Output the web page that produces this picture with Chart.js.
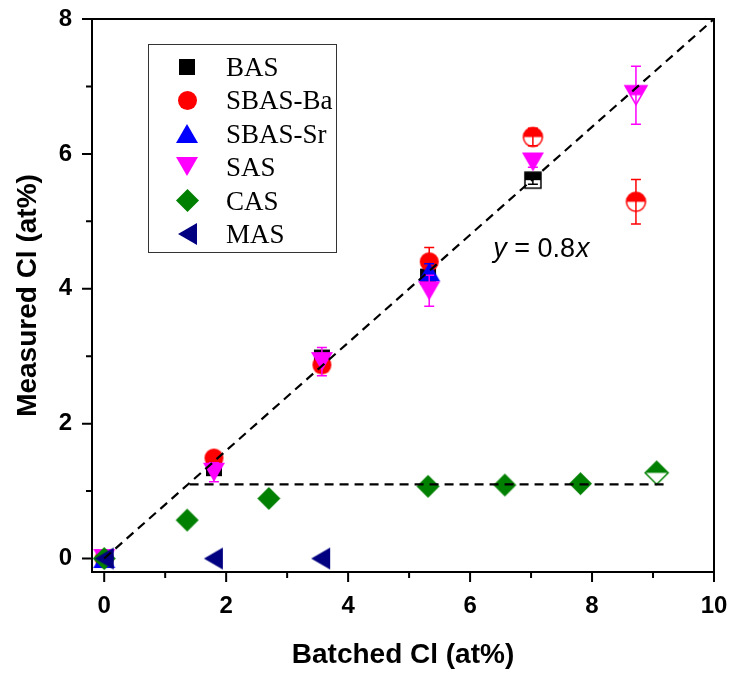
<!DOCTYPE html>
<html lang="en">
<head>
<meta charset="UTF-8">
<title>Measured vs batched Cl</title>
<style>
  html, body { margin: 0; padding: 0; background: #fff; }
  #clChart { display: block; }
</style>
</head>
<body>
<canvas id="clChart" width="734" height="679"></canvas>
<script src="https://cdn.jsdelivr.net/npm/chart.js"></script>
<script>
// values (at%)
const basX = [0, 1.8, 3.57, 5.31, 7.03];
const basY = [0, 1.34, 2.98, 4.18, 5.61];
const basErr = [0, 0.06, 0.06, 0.06, 0.06];
const basHalf = [0, 0, 0, 0, 1];

const sbasBaX = [0, 1.8, 3.57, 5.33, 7.03, 8.72];
const sbasBaY = [0, 1.49, 2.87, 4.40, 6.25, 5.29];
const sbasBaErr = [0, 0.05, 0.07, 0.21, 0.13, 0.33];
const sbasBaHalf = [0, 0, 0, 0, 1, 1];

const sbasSrX = [0, 5.33];
const sbasSrY = [0, 4.25];
const sbasSrErr = [0, 0.12];
const sbasSrHalf = [0, 0];

const sasX = [0, 1.8, 3.57, 5.33, 7.03, 8.72];
const sasY = [0, 1.28, 2.92, 3.97, 5.88, 6.87];
const sasErr = [0, 0.14, 0.21, 0.23, 0.08, 0.43];
const sasHalf = [0, 0, 0, 0, 0, 1];

const casX = [0, 1.36, 2.70, 5.31, 6.57, 7.81, 9.06];
const casY = [0, 0.57, 0.89, 1.07, 1.09, 1.11, 1.27];
const casHalf = [0, 0, 0, 0, 0, 0, 1];

const masX = [0, 1.79, 3.55];
const masY = [0, 0, 0];
const masHalf = [0, 0, 0];

// dashed guide lines
const fitAllX = [0, 10];
const fitAllY = [0, 8];
const fitCasX = [1.4, 9.27];
const fitCasY = [1.1, 1.1];

const xTicks = [0, 2, 4, 6, 8, 10];
const yTicks = [0, 2, 4, 6, 8];
const xMinor = [1, 3, 5, 7, 9];
const yMinor = [1, 3, 5, 7];

const fitLabel = ['y', ' = 0.8', 'x'];

// marker images, half = top filled / bottom white
function makeMarker(shape, color, half) {
  const sizes = { square: [16, 16], circle: [19, 19], up: [22, 19], down: [22, 19], diamond: [23, 23], left: [19, 22] };
  const w = sizes[shape][0], h = sizes[shape][1];
  const pad = 2;
  const c = document.createElement('canvas');
  c.width = w + pad * 2;
  c.height = h + pad * 2;
  const g = c.getContext('2d');
  g.translate(pad, pad);
  const path = () => {
    g.beginPath();
    if (shape === 'square') g.rect(0, 0, w, h);
    else if (shape === 'circle') g.arc(w / 2, h / 2, w / 2, 0, Math.PI * 2);
    else if (shape === 'up') { g.moveTo(w / 2, 0); g.lineTo(w, h); g.lineTo(0, h); g.closePath(); }
    else if (shape === 'down') { g.moveTo(0, 0); g.lineTo(w, 0); g.lineTo(w / 2, h); g.closePath(); }
    else if (shape === 'diamond') { g.moveTo(w / 2, 0); g.lineTo(w, h / 2); g.lineTo(w / 2, h); g.lineTo(0, h / 2); g.closePath(); }
    else if (shape === 'left') { g.moveTo(0, h / 2); g.lineTo(w, 0); g.lineTo(w, h); g.closePath(); }
  };
  if (half) {
    path();
    g.fillStyle = '#fff';
    g.fill();
    g.save();
    g.beginPath();
    g.rect(-1, -1, w + 2, h / 2 + 1);
    g.clip();
    path();
    g.fillStyle = color;
    g.fill();
    g.restore();
    path();
    g.strokeStyle = color;
    g.lineWidth = 1.5;
    g.stroke();
  } else {
    path();
    g.fillStyle = color;
    g.fill();
  }
  return c;
}

function series(label, xs, ys, errs, halves, shape, color, order) {
  return {
    label: label,
    data: xs.map((x, i) => ({ x: x, y: ys[i] })),
    yErr: errs,
    errColor: color,
    shape: shape,
    color: color,
    pointStyle: halves.map(hf => makeMarker(shape, color, hf)),
    pointRadius: 10,
    pointHoverRadius: 0,
    showLine: false,
    clip: false,
    order: order
  };
}

function guide(xs, ys, order) {
  return {
    label: '',
    data: xs.map((x, i) => ({ x: x, y: ys[i] })),
    showLine: true,
    borderColor: '#000',
    borderWidth: 2.2,
    borderDash: [9, 6],
    pointRadius: 0,
    pointHoverRadius: 0,
    fill: false,
    isGuide: true,
    order: order
  };
}

const datasets = [
  series('BAS', basX, basY, basErr, basHalf, 'square', '#000000', 9),
  series('SBAS-Ba', sbasBaX, sbasBaY, sbasBaErr, sbasBaHalf, 'circle', '#ff0000', 8),
  series('SBAS-Sr', sbasSrX, sbasSrY, sbasSrErr, sbasSrHalf, 'up', '#0000ff', 7),
  series('SAS', sasX, sasY, sasErr, sasHalf, 'down', '#ff00ff', 6),
  series('CAS', casX, casY, null, casHalf, 'diamond', '#008000', 5),
  series('MAS', masX, masY, null, masHalf, 'left', '#000080', 4),
  guide(fitAllX, fitAllY, 2),
  guide(fitCasX, fitCasY, 1)
];

// error bars drawn right after their own dataset
const errorBars = {
  id: 'errorBars',
  afterDatasetDraw(chart, args) {
    const ds = chart.data.datasets[args.index];
    if (!ds.yErr) return;
    const ctx = chart.ctx;
    const yScale = chart.scales.y;
    ctx.save();
    ctx.strokeStyle = ds.errColor;
    ctx.lineWidth = 1.5;
    args.meta.data.forEach((pt, i) => {
      const e = ds.yErr[i];
      if (!e) return;
      const v = ds.data[i].y;
      const yt = yScale.getPixelForValue(v + e);
      const yb = yScale.getPixelForValue(v - e);
      ctx.beginPath();
      ctx.moveTo(pt.x, yt); ctx.lineTo(pt.x, yb);
      ctx.moveTo(pt.x - 5, yt); ctx.lineTo(pt.x + 5, yt);
      ctx.moveTo(pt.x - 5, yb); ctx.lineTo(pt.x + 5, yb);
      ctx.stroke();
    });
    ctx.restore();
  }
};

// frame, outward ticks, legend box and the fit label
const decorations = {
  id: 'decorations',
  afterDraw(chart) {
    const ctx = chart.ctx;
    const a = chart.chartArea;
    const xs = chart.scales.x, ys = chart.scales.y;
    ctx.save();
    ctx.strokeStyle = '#000';
    ctx.lineWidth = 2;
    ctx.strokeRect(a.left, a.top, a.right - a.left, a.bottom - a.top);
    ctx.beginPath();
    xTicks.forEach(v => { const p = xs.getPixelForValue(v); ctx.moveTo(p, a.bottom); ctx.lineTo(p, a.bottom + 10); });
    xMinor.forEach(v => { const p = xs.getPixelForValue(v); ctx.moveTo(p, a.bottom); ctx.lineTo(p, a.bottom + 6); });
    yTicks.forEach(v => { const p = ys.getPixelForValue(v); ctx.moveTo(a.left, p); ctx.lineTo(a.left - 10, p); });
    yMinor.forEach(v => { const p = ys.getPixelForValue(v); ctx.moveTo(a.left, p); ctx.lineTo(a.left - 6, p); });
    ctx.stroke();

    // legend
    ctx.lineWidth = 1;
    ctx.strokeStyle = '#333';
    ctx.strokeRect(148.5, 44.5, 188, 208);
    ctx.font = '27px "Liberation Serif", "Times New Roman", serif';
    ctx.fillStyle = '#000';
    ctx.textAlign = 'left';
    ctx.textBaseline = 'alphabetic';
    const series6 = chart.data.datasets.filter(d => !d.isGuide);
    series6.forEach((d, i) => {
      const cy = 66.7 + i * 33.4;
      const img = makeMarker(d.shape, d.color, false);
      ctx.drawImage(img, Math.round(187 - img.width / 2), Math.round(cy - img.height / 2));
      ctx.fillText(d.label, 226, cy + 9.3);
    });

    // y = 0.8x
    let tx = xs.getPixelForValue(6.38);
    const ty = ys.getPixelForValue(4.475);
    const fonts = ['italic 27px "Liberation Sans", Arial, sans-serif', '27px "Liberation Sans", Arial, sans-serif', 'italic 27px "Liberation Sans", Arial, sans-serif'];
    fitLabel.forEach((s, i) => {
      ctx.font = fonts[i];
      ctx.fillText(s, tx, ty);
      tx += ctx.measureText(s).width + (i === 1 ? 1 : 0);
    });
    ctx.restore();
  }
};

// tick padding also pads the plot edges; undo that so the frame sits where the layout says
function noEdgePadding(s) {
  s.paddingTop = 0;
  s.paddingBottom = 0;
  s.paddingLeft = 0;
  s.paddingRight = 0;
}

const tickFont = { family: '"Liberation Sans", Arial, sans-serif', size: 24, weight: 'bold' };
const titleFont = { family: '"Liberation Sans", Arial, sans-serif', size: 28, weight: 'bold' };

new Chart(document.getElementById('clChart').getContext('2d'), {
  type: 'scatter',
  data: { datasets: datasets },
  options: {
    responsive: false,
    animation: false,
    events: [],
    layout: { autoPadding: false, padding: { top: 19, right: 20, left: 0, bottom: 0 } },
    plugins: {
      legend: { display: false },
      tooltip: { enabled: false }
    },
    scales: {
      x: {
        type: 'linear',
        min: -0.2,
        max: 10,
        afterBuildTicks: s => { s.ticks = xTicks.map(v => ({ value: v })); },
        afterFit: s => { s.height = 107; noEdgePadding(s); },
        grid: { display: false, drawTicks: false },
        border: { display: false },
        ticks: { color: '#000', font: tickFont, padding: 20, maxRotation: 0, autoSkip: false },
        title: { display: true, text: 'Batched Cl (at%)', color: '#000', font: titleFont, padding: { top: 0, bottom: 7 } }
      },
      y: {
        type: 'linear',
        min: -0.2,
        max: 8,
        afterBuildTicks: s => { s.ticks = yTicks.map(v => ({ value: v })); },
        afterFit: s => { s.width = 92; noEdgePadding(s); },
        grid: { display: false, drawTicks: false },
        border: { display: false },
        ticks: { color: '#000', font: tickFont, padding: 20, autoSkip: false },
        title: { display: true, text: 'Measured Cl (at%)', color: '#000', font: titleFont, padding: { top: 11, bottom: 0 } }
      }
    }
  },
  plugins: [errorBars, decorations]
});
</script>
</body>
</html>
